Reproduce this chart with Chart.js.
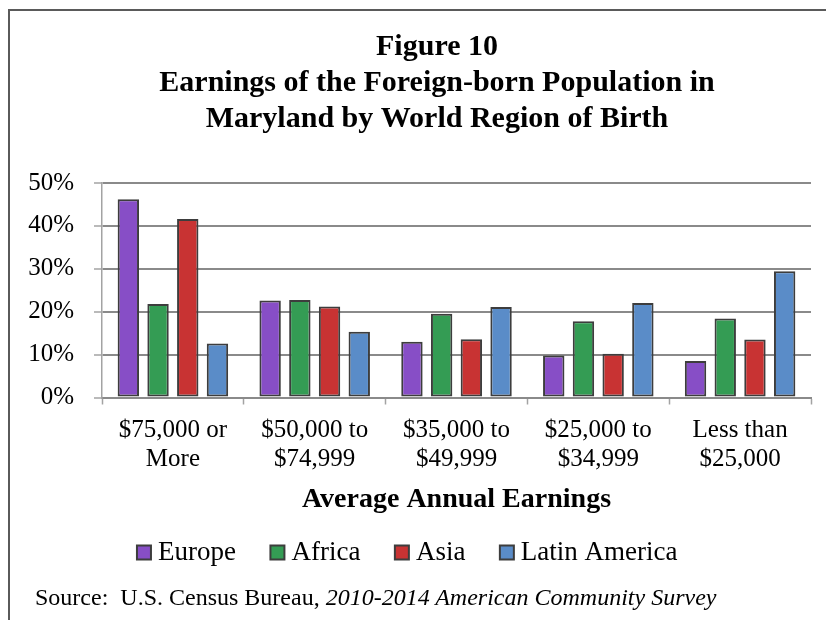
<!DOCTYPE html>
<html><head><meta charset="utf-8">
<script src="https://cdn.jsdelivr.net/npm/chart.js@4.4.1/dist/chart.umd.min.js"></script>
<style>
html,body{margin:0;padding:0;background:#fff;overflow:hidden;}
#wrap{position:relative;width:826px;height:620px;overflow:hidden;background:#fff;}
#frame{position:absolute;left:8px;top:9px;width:900px;height:700px;border-left:2px solid #5a5a5a;border-top:2px solid #5a5a5a;}
#c{position:absolute;left:0;top:0;}
#source{position:absolute;left:35px;top:584px;font:24px/27px "Liberation Serif","Times New Roman",serif;color:#000;white-space:nowrap;}
</style></head>
<body>
<div id="wrap">
  <div id="frame"></div>
  <canvas id="c" width="826" height="620"></canvas>
  <div id="source">Source:&nbsp; U.S. Census Bureau, <i>2010-2014 American Community Survey</i></div>
</div>
<script>
// ---- data ----
const titleLines = ["Figure 10", "Earnings of the Foreign-born Population in", "Maryland by World Region of Birth"];
const categories = [["$75,000 or", "More"], ["$50,000 to", "$74,999"], ["$35,000 to", "$49,999"], ["$25,000 to", "$34,999"], ["Less than", "$25,000"]];
const seriesNames = ["Europe", "Africa", "Asia", "Latin America"];
const europe = [46.2, 22.6, 13.0, 9.8, 8.5];
const africa = [21.8, 22.7, 19.5, 17.8, 18.4];
const asia = [41.6, 21.2, 13.6, 10.2, 13.5];
const latinAmerica = [12.6, 15.3, 21.1, 22.0, 29.4];
const yTickMin = 0, yTickMax = 50, yTickStep = 10;
const xAxisTitle = "Average Annual Earnings";

// ---- styles ----
const colors = ["#874EC6", "#349C54", "#C83333", "#5A8CC8"];
const serif = "'Liberation Serif', 'Times New Roman', serif";

const seriesValues = [europe, africa, asia, latinAmerica];
const datasets = seriesNames.map((name, i) => ({
  label: name,
  data: seriesValues[i],
  backgroundColor: colors[i],
  borderColor: "#3d3d3d",
  borderWidth: 2,
  borderSkipped: false,
  barPercentage: 0.72,
  categoryPercentage: 0.838
}));

const shiftTitle = {
  id: "shiftTitle",
  afterLayout(chart) {
    const t = chart.titleBlock;
    if (t) { t.left += 26.5; t.right += 26.5; }
  }
};

Chart.defaults.color = "#000";
Chart.defaults.font.family = serif;

new Chart(document.getElementById("c"), {
  type: "bar",
  data: { labels: categories, datasets },
  plugins: [shiftTitle],
  options: {
    responsive: false,
    animation: false,
    devicePixelRatio: 1,
    layout: { padding: { top: 0, left: 10, right: 15, bottom: 44 } },
    plugins: {
      title: {
        display: true,
        text: titleLines,
        color: "#000",
        font: { family: serif, size: 30, weight: "bold", lineHeight: 1.2 },
        padding: { top: 29, bottom: 46 }
      },
      legend: {
        position: "bottom",
        labels: {
          usePointStyle: true,
          pointStyle: "rect",
          boxWidth: 1,
          boxHeight: 14,
          padding: 41,
          color: "#000",
          font: { family: serif, size: 27 }
        }
      },
      tooltip: { enabled: false }
    },
    scales: {
      x: {
        grid: { display: true, drawOnChartArea: false, drawTicks: true, tickLength: 7, tickColor: "#a3a3a3", tickWidth: 1.5, color: "#a3a3a3" },
        border: { display: true, color: "#8a8a8a", width: 2 },
        ticks: { padding: 11, color: "#000", font: { family: serif, size: 25, lineHeight: 1.16 }, maxRotation: 0, autoSkip: false },
        title: {
          display: true,
          text: xAxisTitle,
          color: "#000",
          font: { family: serif, size: 28, weight: "bold", lineHeight: 1.2 },
          padding: { top: -1.8, bottom: -18.3 }
        }
      },
      y: {
        min: yTickMin,
        max: yTickMax,
        afterFit(scale) { scale.width = 92; },
        grid: { color: "#8a8a8a", lineWidth: 2, tickLength: 8, tickColor: "#a3a3a3", tickWidth: 1.5 },
        border: { display: true, color: "#a3a3a3", width: 1.5 },
        ticks: {
          stepSize: yTickStep,
          padding: 20,
          color: "#000",
          font: { family: serif, size: 25 },
          callback: v => v + "%"
        }
      }
    }
  }
});
</script>
</body></html>
